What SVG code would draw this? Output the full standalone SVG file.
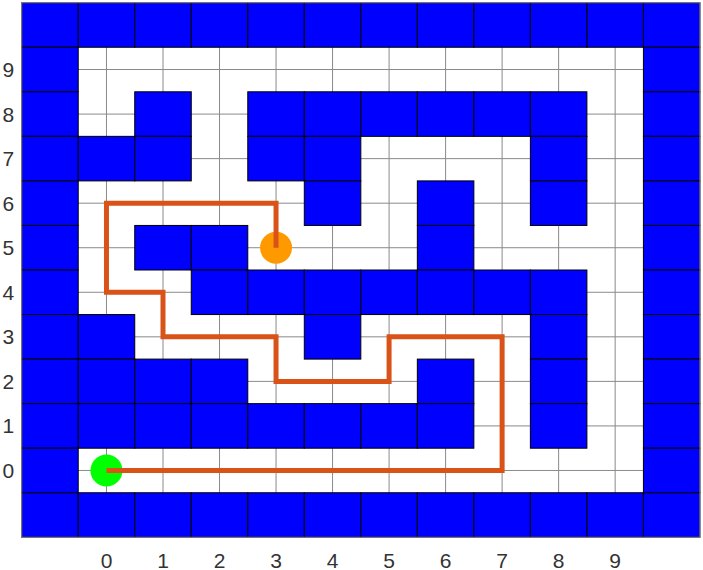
<svg xmlns="http://www.w3.org/2000/svg" xmlns:xlink="http://www.w3.org/1999/xlink" width="703" height="570" viewBox="0 0 703 570">
<style>
.wall{fill:#0000ff;stroke:#000000;stroke-width:1}
.grid line{stroke:#8a8a8a;stroke-width:1}
.tick{font-family:"Liberation Sans",Arial,sans-serif;font-size:21px;fill:#333333}
.xt{text-anchor:middle}
.yt{text-anchor:end}
.route{fill:none;stroke:#d95319;stroke-width:5;stroke-linejoin:miter;stroke-linecap:butt}
</style>
<defs><rect id="cell" width="56.52" height="44.55"/></defs>
<rect x="0" y="0" width="703" height="570" fill="#ffffff"/>
<g id="grid" class="grid">
<line x1="106.48" y1="2.7" x2="106.48" y2="537.3"/>
<line x1="163.0" y1="2.7" x2="163.0" y2="537.3"/>
<line x1="219.52" y1="2.7" x2="219.52" y2="537.3"/>
<line x1="276.04" y1="2.7" x2="276.04" y2="537.3"/>
<line x1="332.56" y1="2.7" x2="332.56" y2="537.3"/>
<line x1="389.08" y1="2.7" x2="389.08" y2="537.3"/>
<line x1="445.6" y1="2.7" x2="445.6" y2="537.3"/>
<line x1="502.12" y1="2.7" x2="502.12" y2="537.3"/>
<line x1="558.64" y1="2.7" x2="558.64" y2="537.3"/>
<line x1="615.16" y1="2.7" x2="615.16" y2="537.3"/>
<line x1="21.7" y1="69.53" x2="699.94" y2="69.53"/>
<line x1="21.7" y1="114.08" x2="699.94" y2="114.08"/>
<line x1="21.7" y1="158.63" x2="699.94" y2="158.63"/>
<line x1="21.7" y1="203.18" x2="699.94" y2="203.18"/>
<line x1="21.7" y1="247.73" x2="699.94" y2="247.73"/>
<line x1="21.7" y1="292.28" x2="699.94" y2="292.28"/>
<line x1="21.7" y1="336.83" x2="699.94" y2="336.83"/>
<line x1="21.7" y1="381.38" x2="699.94" y2="381.38"/>
<line x1="21.7" y1="425.93" x2="699.94" y2="425.93"/>
<line x1="21.7" y1="470.48" x2="699.94" y2="470.48"/>
</g>
<g id="walls" class="wall">
<use xlink:href="#cell" x="21.7" y="2.7"/><use xlink:href="#cell" x="78.22" y="2.7"/><use xlink:href="#cell" x="134.74" y="2.7"/><use xlink:href="#cell" x="191.26" y="2.7"/><use xlink:href="#cell" x="247.78" y="2.7"/><use xlink:href="#cell" x="304.3" y="2.7"/><use xlink:href="#cell" x="360.82" y="2.7"/><use xlink:href="#cell" x="417.34" y="2.7"/><use xlink:href="#cell" x="473.86" y="2.7"/><use xlink:href="#cell" x="530.38" y="2.7"/><use xlink:href="#cell" x="586.9" y="2.7"/><use xlink:href="#cell" x="643.42" y="2.7"/>
<use xlink:href="#cell" x="21.7" y="47.25"/><use xlink:href="#cell" x="643.42" y="47.25"/>
<use xlink:href="#cell" x="21.7" y="91.8"/><use xlink:href="#cell" x="134.74" y="91.8"/><use xlink:href="#cell" x="247.78" y="91.8"/><use xlink:href="#cell" x="304.3" y="91.8"/><use xlink:href="#cell" x="360.82" y="91.8"/><use xlink:href="#cell" x="417.34" y="91.8"/><use xlink:href="#cell" x="473.86" y="91.8"/><use xlink:href="#cell" x="530.38" y="91.8"/><use xlink:href="#cell" x="643.42" y="91.8"/>
<use xlink:href="#cell" x="21.7" y="136.35"/><use xlink:href="#cell" x="78.22" y="136.35"/><use xlink:href="#cell" x="134.74" y="136.35"/><use xlink:href="#cell" x="247.78" y="136.35"/><use xlink:href="#cell" x="304.3" y="136.35"/><use xlink:href="#cell" x="530.38" y="136.35"/><use xlink:href="#cell" x="643.42" y="136.35"/>
<use xlink:href="#cell" x="21.7" y="180.9"/><use xlink:href="#cell" x="304.3" y="180.9"/><use xlink:href="#cell" x="417.34" y="180.9"/><use xlink:href="#cell" x="530.38" y="180.9"/><use xlink:href="#cell" x="643.42" y="180.9"/>
<use xlink:href="#cell" x="21.7" y="225.45"/><use xlink:href="#cell" x="134.74" y="225.45"/><use xlink:href="#cell" x="191.26" y="225.45"/><use xlink:href="#cell" x="417.34" y="225.45"/><use xlink:href="#cell" x="643.42" y="225.45"/>
<use xlink:href="#cell" x="21.7" y="270"/><use xlink:href="#cell" x="191.26" y="270"/><use xlink:href="#cell" x="247.78" y="270"/><use xlink:href="#cell" x="304.3" y="270"/><use xlink:href="#cell" x="360.82" y="270"/><use xlink:href="#cell" x="417.34" y="270"/><use xlink:href="#cell" x="473.86" y="270"/><use xlink:href="#cell" x="530.38" y="270"/><use xlink:href="#cell" x="643.42" y="270"/>
<use xlink:href="#cell" x="21.7" y="314.55"/><use xlink:href="#cell" x="78.22" y="314.55"/><use xlink:href="#cell" x="304.3" y="314.55"/><use xlink:href="#cell" x="530.38" y="314.55"/><use xlink:href="#cell" x="643.42" y="314.55"/>
<use xlink:href="#cell" x="21.7" y="359.1"/><use xlink:href="#cell" x="78.22" y="359.1"/><use xlink:href="#cell" x="134.74" y="359.1"/><use xlink:href="#cell" x="191.26" y="359.1"/><use xlink:href="#cell" x="417.34" y="359.1"/><use xlink:href="#cell" x="530.38" y="359.1"/><use xlink:href="#cell" x="643.42" y="359.1"/>
<use xlink:href="#cell" x="21.7" y="403.65"/><use xlink:href="#cell" x="78.22" y="403.65"/><use xlink:href="#cell" x="134.74" y="403.65"/><use xlink:href="#cell" x="191.26" y="403.65"/><use xlink:href="#cell" x="247.78" y="403.65"/><use xlink:href="#cell" x="304.3" y="403.65"/><use xlink:href="#cell" x="360.82" y="403.65"/><use xlink:href="#cell" x="417.34" y="403.65"/><use xlink:href="#cell" x="530.38" y="403.65"/><use xlink:href="#cell" x="643.42" y="403.65"/>
<use xlink:href="#cell" x="21.7" y="448.2"/><use xlink:href="#cell" x="643.42" y="448.2"/>
<use xlink:href="#cell" x="21.7" y="492.75"/><use xlink:href="#cell" x="78.22" y="492.75"/><use xlink:href="#cell" x="134.74" y="492.75"/><use xlink:href="#cell" x="191.26" y="492.75"/><use xlink:href="#cell" x="247.78" y="492.75"/><use xlink:href="#cell" x="304.3" y="492.75"/><use xlink:href="#cell" x="360.82" y="492.75"/><use xlink:href="#cell" x="417.34" y="492.75"/><use xlink:href="#cell" x="473.86" y="492.75"/><use xlink:href="#cell" x="530.38" y="492.75"/><use xlink:href="#cell" x="586.9" y="492.75"/><use xlink:href="#cell" x="643.42" y="492.75"/>
</g>
<rect id="axes-box" x="21.7" y="2.7" width="678.24" height="534.6" fill="none" stroke="#8a8a8a" stroke-width="1"/>
<g id="start"><circle cx="106.48" cy="470.48" r="16" fill="#00ff00"/></g>
<g id="goal"><circle cx="276.04" cy="247.73" r="16" fill="#ff9900"/></g>
<g id="connectors">
<polyline class="route" points="106.48,470.48 502.12,470.48 502.12,336.83 389.08,336.83 389.08,381.38 276.04,381.38 276.04,336.83 163,336.83 163,292.28 106.48,292.28 106.48,203.18 276.04,203.18 276.04,247.73"/>
</g>
<g id="xticks" class="tick xt">
<text x="106.48" y="567.5">0</text><text x="163" y="567.5">1</text><text x="219.52" y="567.5">2</text><text x="276.04" y="567.5">3</text><text x="332.56" y="567.5">4</text><text x="389.08" y="567.5">5</text><text x="445.6" y="567.5">6</text><text x="502.12" y="567.5">7</text><text x="558.64" y="567.5">8</text><text x="615.16" y="567.5">9</text>
</g>
<g id="yticks" class="tick yt">
<text x="14.2" y="77.0">9</text><text x="14.2" y="121.6">8</text><text x="14.2" y="166.1">7</text><text x="14.2" y="210.7">6</text><text x="14.2" y="255.2">5</text><text x="14.2" y="299.8">4</text><text x="14.2" y="344.3">3</text><text x="14.2" y="388.9">2</text><text x="14.2" y="433.4">1</text><text x="14.2" y="478.0">0</text>
</g>
</svg>
